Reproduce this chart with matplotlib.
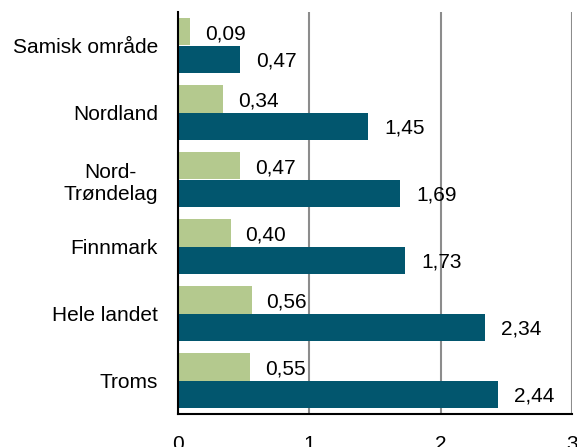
import matplotlib
matplotlib.use("Agg")
import matplotlib.pyplot as plt
import numpy as np

plt.rcParams['font.family'] = ['Liberation Sans', 'DejaVu Sans']

categories = ["Samisk område", "Nordland", "Nord-\nTrøndelag", "Finnmark", "Hele landet", "Troms"]
series_green = [0.09, 0.34, 0.47, 0.40, 0.56, 0.55]
series_teal = [0.47, 1.45, 1.69, 1.73, 2.34, 2.44]
xticks = [0, 1, 2, 3]

green = "#B4C98E"
teal = "#02566E"

fig = plt.figure(figsize=(5.77, 4.47), dpi=100)
ax = fig.add_axes([178/577, 1-414/447, 394/577, 402/447])

n = len(categories)
y = np.arange(n)
h = 0.41
ax.barh(y - h/2, series_green, height=h, color=green, zorder=3)
ax.barh(y + h/2, series_teal, height=h, color=teal, zorder=3)

fs = 15
def fmt(v):
    return f"{v:.2f}".replace(".", ",")
for i in range(n):
    ax.annotate(fmt(series_green[i]), (series_green[i], y[i] - h/2), xytext=(15, -2),
                textcoords="offset pixels", va="center", ha="left", fontsize=fs)
    ax.annotate(fmt(series_teal[i]), (series_teal[i], y[i] + h/2), xytext=(16, -2),
                textcoords="offset pixels", va="center", ha="left", fontsize=fs)

ax.set_xlim(0, 3)
ax.set_ylim(n - 0.5, -0.5)
ax.set_yticks(y)
ax.set_yticklabels(categories, fontsize=fs, multialignment="center")
ax.set_xticks(xticks)
ax.set_xticklabels([str(t) for t in xticks], fontsize=fs)
ax.tick_params(axis="both", length=0)
ax.tick_params(axis="y", pad=14.4)
ax.tick_params(axis="x", pad=15)

ax.grid(axis="x", color="#8C8C8C", linewidth=1.5, zorder=1)
ax.grid(axis="y", visible=False)
for s in ["top", "right"]:
    ax.spines[s].set_visible(False)
ax.spines["left"].set_color("black")
ax.spines["left"].set_linewidth(1.5)
ax.spines["bottom"].set_color("black")
ax.spines["bottom"].set_linewidth(1.5)
ax.spines["left"].set_zorder(4)

fig.savefig("out.png", dpi=100)
